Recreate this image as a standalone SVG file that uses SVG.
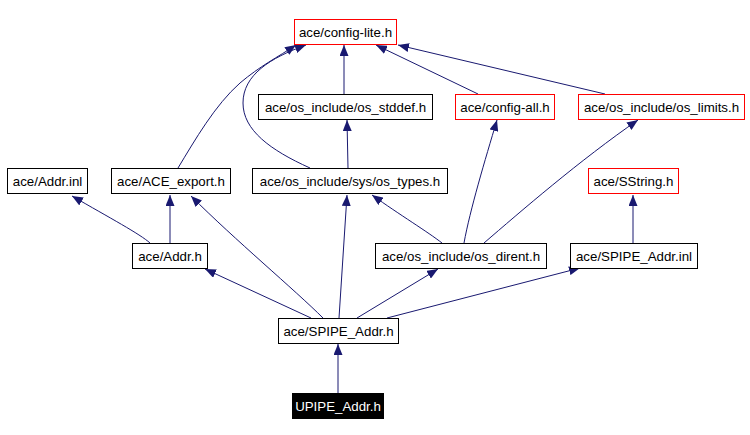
<svg xmlns="http://www.w3.org/2000/svg" width="750" height="435" viewBox="0 0 750 435">
<style>
.n rect{fill:#fff;stroke:#000;stroke-width:1}
.r rect{stroke:#ff0000}
.n text{font-family:"Liberation Sans",Arial,sans-serif;font-size:13.3px;fill:#000;text-anchor:middle}
.d rect{fill:#000}
.d text{fill:#fff}
.e path{fill:none;stroke:#191970;stroke-width:1;marker-end:url(#a)}
</style>
<defs>
<marker id="a" viewBox="0 0 11 9" refX="11" refY="4.5" markerWidth="11" markerHeight="9" markerUnits="userSpaceOnUse" orient="auto">
<path d="M0,0 L11,4.5 L0,9 z" fill="#191970"/>
</marker>
</defs>
<rect width="750" height="435" fill="#fff"/>
<g class="e">
<path d="M338,393 V344"/>
<path d="M311,318 L205,269"/>
<path d="M323,318 C295,290 235,240 191,196"/>
<path d="M339,318 L347,195"/>
<path d="M357,318 L438,269"/>
<path d="M387,318 L580,268"/>
<path d="M150,243 C140,234 110,218 72,196"/>
<path d="M170,243 V195"/>
<path d="M178,168 C195,140 215,105 240,83 C260,66 278,57 296,45"/>
<path d="M310,168 C270,150 243,130 243,103 C243,75 270,58 306,45"/>
<path d="M348,168 L347,120"/>
<path d="M344,94 V45"/>
<path d="M478,94 L376,45"/>
<path d="M605,94 L398,45"/>
<path d="M442,243 C428,232 400,215 372,195"/>
<path d="M464,243 C470,210 485,160 497,120"/>
<path d="M484,243 C520,212 580,160 638,120"/>
<path d="M633,243 V195"/>
</g>
<g id="config_lite" class="n r"><rect x="294.5" y="19.5" width="102" height="25"/><text x="345.5" y="37">ace/config-lite.h</text></g>
<g id="os_stddef" class="n"><rect x="258.5" y="94.5" width="174" height="25"/><text x="345.5" y="112">ace/os_include/os_stddef.h</text></g>
<g id="config_all" class="n r"><rect x="455.5" y="94.5" width="99" height="25"/><text x="505" y="112">ace/config-all.h</text></g>
<g id="os_limits" class="n r"><rect x="578.5" y="94.5" width="166" height="25"/><text x="661.5" y="112">ace/os_include/os_limits.h</text></g>
<g id="addr_inl" class="n"><rect x="7.5" y="168.5" width="80" height="25"/><text x="47.5" y="186">ace/Addr.inl</text></g>
<g id="ace_export" class="n"><rect x="111.5" y="168.5" width="119" height="25"/><text x="171" y="186">ace/ACE_export.h</text></g>
<g id="os_types" class="n"><rect x="252.5" y="168.5" width="195" height="25"/><text x="350" y="186">ace/os_include/sys/os_types.h</text></g>
<g id="sstring" class="n r"><rect x="588.5" y="168.5" width="90" height="25"/><text x="633.5" y="186">ace/SString.h</text></g>
<g id="addr_h" class="n"><rect x="132.5" y="243.5" width="75" height="25"/><text x="170" y="261">ace/Addr.h</text></g>
<g id="os_dirent" class="n"><rect x="375.5" y="243.5" width="171" height="25"/><text x="461" y="261">ace/os_include/os_dirent.h</text></g>
<g id="spipe_inl" class="n"><rect x="570.5" y="243.5" width="127" height="25"/><text x="634" y="261">ace/SPIPE_Addr.inl</text></g>
<g id="spipe_h" class="n"><rect x="278.5" y="318.5" width="120" height="25"/><text x="338.5" y="336">ace/SPIPE_Addr.h</text></g>
<g id="upipe_h" class="n d"><rect x="292.5" y="393.5" width="91" height="25"/><text x="338" y="411">UPIPE_Addr.h</text></g>
</svg>
